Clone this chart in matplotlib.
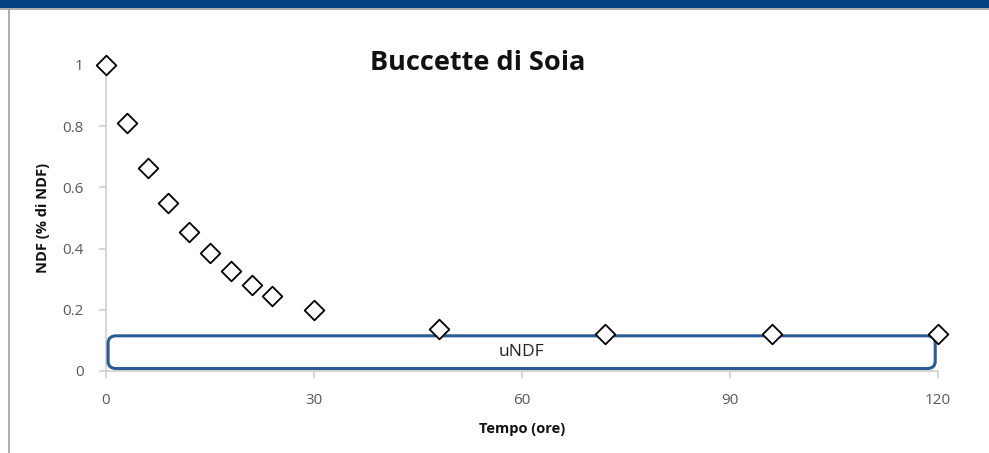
import matplotlib.pyplot as plt
from matplotlib.patches import FancyBboxPatch, Rectangle
from matplotlib.lines import Line2D

# Data
tempo = [0, 3, 6, 9, 12, 15, 18, 21, 24, 30, 48, 72, 96, 120]
ndf = [1.0, 0.81, 0.665, 0.55, 0.455, 0.385, 0.328, 0.28, 0.245, 0.2, 0.138, 0.12, 0.12, 0.12]
x_ticks = [0, 30, 60, 90, 120]
y_ticks = [0, 0.2, 0.4, 0.6, 0.8, 1]
y_labels = ["0", "0.2", "0.4", "0.6", "0.8", "1"]
undf_box = (0.3, 0.008, 119.3, 0.107)  # x, y, width, height in data units

plt.rcParams['font.family'] = ['Open Sans', 'DejaVu Sans']

fig = plt.figure(figsize=(9.89, 4.53), dpi=100)

# page decoration: blue header strip and grey frame lines
fig.patches.append(Rectangle((0, 1 - 8 / 453), 1, 8 / 453, transform=fig.transFigure,
                             facecolor='#02407f', edgecolor='none'))
fig.lines.append(Line2D([0, 1], [1 - 9 / 453, 1 - 9 / 453], transform=fig.transFigure,
                        color='#a0a0a0', lw=1.2))
fig.lines.append(Line2D([8.5 / 989, 8.5 / 989], [0, 1 - 9 / 453], transform=fig.transFigure,
                        color='#a0a0a0', lw=1.2))

ax = fig.add_axes([106 / 989, 1 - 371 / 453, (938 - 106) / 989, (371 - 65) / 453])

ax.scatter(tempo, ndf, marker='D', s=100, facecolor='white', edgecolor='black',
           linewidth=1.3, zorder=4, clip_on=False)

bx, by, bw, bh = undf_box
box = FancyBboxPatch((bx, by), bw, bh, boxstyle="round,pad=0,rounding_size=1.2",
                     mutation_aspect=0.02, facecolor='white', edgecolor='#2c5a92',
                     linewidth=2.2, zorder=3, clip_on=False)
ax.add_patch(box)
ax.text(bx + bw / 2, by + bh / 2, "uNDF", ha='center', va='center', fontsize=12.5,
        color='#222222', zorder=5)

ax.set_xlim(0, 120)
ax.set_ylim(0, 1)
ax.set_xticks(x_ticks)
ax.set_yticks(y_ticks)
ax.set_yticklabels(y_labels)

for s in ['top', 'right']:
    ax.spines[s].set_visible(False)
for s in ['left', 'bottom']:
    ax.spines[s].set_color('#d0d0d0')
    ax.spines[s].set_linewidth(1.2)

ax.tick_params(axis='both', colors='#d0d0d0', labelcolor='#595959', labelsize=11,
               length=5, width=1.2, pad=11)

ax.set_title("Buccette di Soia", fontsize=19.5, fontweight='bold', color='#111111',
             x=0.447, y=0.955)
ax.set_xlabel("Tempo (ore)", fontsize=10.5, fontweight='bold', color='#111111', labelpad=10)
ax.set_ylabel("NDF (% di NDF)", fontsize=10.5, fontweight='bold', color='#111111', labelpad=9)

fig.savefig("out.png", dpi=100)
